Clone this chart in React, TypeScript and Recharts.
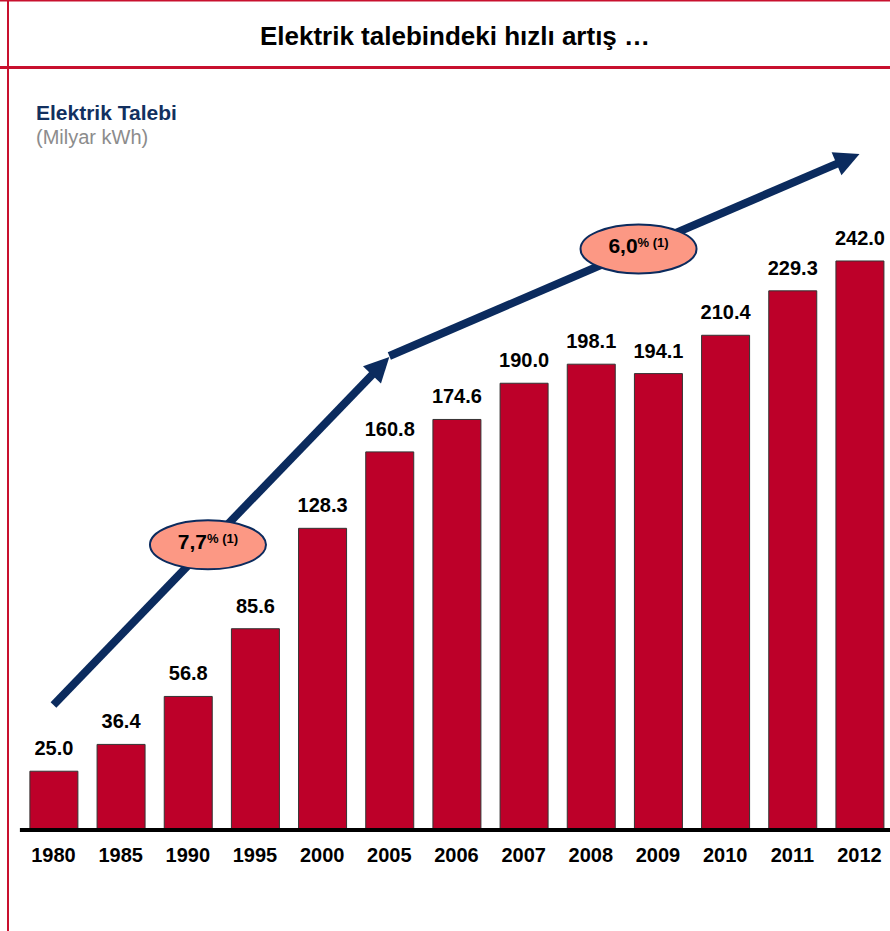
import React from "react";
import { BarChart, Bar, XAxis, YAxis, LabelList, ReferenceLine } from "recharts";

const years = ["1980", "1985", "1990", "1995", "2000", "2005", "2006", "2007", "2008", "2009", "2010", "2011", "2012"];
const demand = [25.0, 36.4, 56.8, 85.6, 128.3, 160.8, 174.6, 190.0, 198.1, 194.1, 210.4, 229.3, 242.0];

const title = "Elektrik talebindeki hızlı artış …";
const subtitle = "Elektrik Talebi";
const unit = "(Milyar kWh)";

const trend1From = { x: "1980", y: 53.2 };
const trend1To = { x: "2005", y: 201.2 };
const trend1Label = "7,7";
const trend2From = { x: "2005", y: 201.6 };
const trend2To = { x: "2012", y: 287.5 };
const trend2Label = "6,0";
const rateNote = "% (1)";

const data = years.map((y, i) => ({ year: y, value: demand[i] }));

const NAVY = "#0b2b5e";
const RED = "#c8102e";
const FONT = "'Liberation Sans', Arial, sans-serif";

function makeArrow(label: string, t: number) {
  return (props: any) => {
    const { x1, y1, x2, y2 } = props;
    const dx = x2 - x1;
    const dy = y2 - y1;
    const len = Math.sqrt(dx * dx + dy * dy);
    const ux = dx / len;
    const uy = dy / len;
    const headLen = 25;
    const headHalf = 12.5;
    const bx = x2 - ux * headLen;
    const by = y2 - uy * headLen;
    const px = -uy;
    const py = ux;
    const cx = x1 + dx * t;
    const cy = y1 + dy * t;
    return (
      <g>
        <line x1={x1} y1={y1} x2={bx + ux * 2} y2={by + uy * 2} stroke={NAVY} strokeWidth={8} />
        <polygon
          points={`${x2},${y2} ${bx + px * headHalf},${by + py * headHalf} ${bx - px * headHalf},${by - py * headHalf}`}
          fill={NAVY}
        />
        <ellipse cx={cx} cy={cy} rx={58} ry={24.5} fill="#fc9884" stroke={NAVY} strokeWidth={2} />
        <text x={cx} y={cy + 4} textAnchor="middle" fontFamily={FONT} fontWeight="bold" fill="#000">
          <tspan fontSize={21}>{label}</tspan>
          <tspan fontSize={13} dy={-6}>{rateNote}</tspan>
        </text>
      </g>
    );
  };
}

export default function App() {
  return (
    <div style={{ position: "absolute", left: 0, top: 0, width: 890, height: 931, overflow: "hidden", background: "#fff" }}>
      <svg width={890} height={931} style={{ position: "absolute", left: 0, top: 0 }}>
        <line x1={0} y1={0.75} x2={890} y2={0.75} stroke={RED} strokeWidth={1.5} />
        <line x1={0} y1={67.5} x2={890} y2={67.5} stroke={RED} strokeWidth={3} />
        <line x1={8} y1={0} x2={8} y2={931} stroke={RED} strokeWidth={2} />
        <text x={455} y={45} textAnchor="middle" fontFamily={FONT} fontWeight="bold" fontSize={26} fill="#000">
          {title}
        </text>
        <text x={36} y={120} fontFamily={FONT} fontWeight="bold" fontSize={21} fill="#12305f">
          {subtitle}
        </text>
        <text x={36} y={144} fontFamily={FONT} fontSize={20} fill="#8c8c8c">
          {unit}
        </text>
      </svg>
      <div style={{ position: "absolute", left: 0, top: 0 }}>
        <BarChart
          width={900}
          height={931}
          data={data}
          margin={{ top: 124.6, right: 6.9, bottom: 61, left: 19.9 }}
        >
          <XAxis
            dataKey="year"
            height={40}
            axisLine={{ stroke: "#000", strokeWidth: 4 }}
            tickLine={false}
            tickMargin={12}
            interval={0}
            tick={{ fill: "#000", fontSize: 20, fontWeight: "bold", fontFamily: FONT }}
          />
          <YAxis hide domain={[0, 300]} />
          <Bar dataKey="value" fill="#bd0029" stroke="#333" strokeWidth={1} barSize={48} isAnimationActive={false}>
            <LabelList
              dataKey="value"
              position="top"
              offset={16}
              formatter={(v: any) => Number(v).toFixed(1)}
              fill="#000"
              fontSize={20}
              fontWeight="bold"
              fontFamily={FONT}
            />
          </Bar>
          <ReferenceLine
            segment={[trend1From, trend1To]}
            ifOverflow="visible"
            shape={makeArrow(trend1Label, 0.46)}
          />
          <ReferenceLine
            segment={[trend2From, trend2To]}
            ifOverflow="visible"
            shape={makeArrow(trend2Label, 0.53)}
          />
        </BarChart>
      </div>
    </div>
  );
}
